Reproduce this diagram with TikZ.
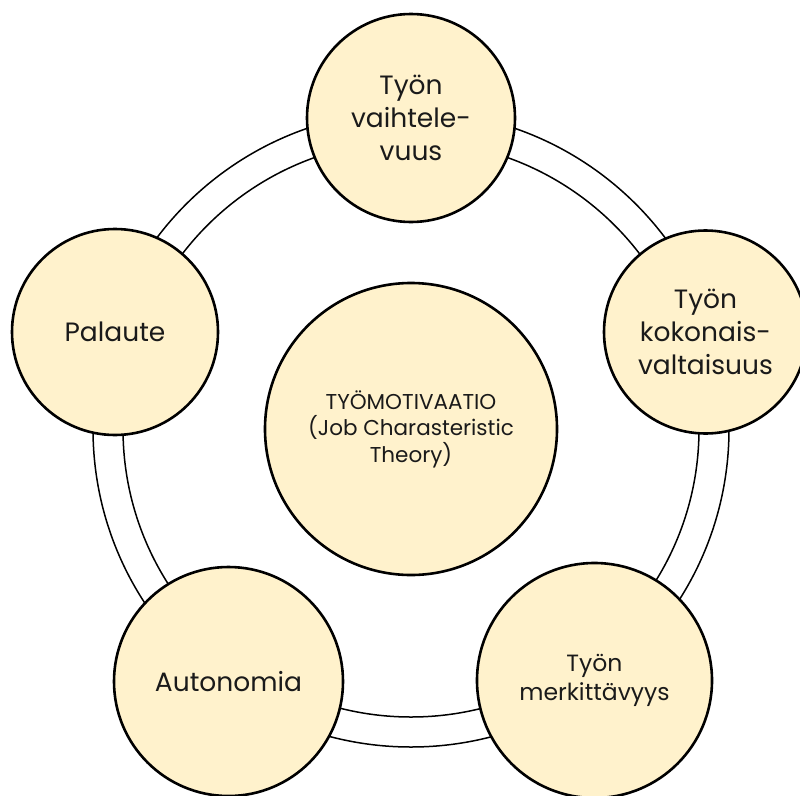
\documentclass[tikz,border=0pt]{standalone}
\usepackage{fontspec}
\setmainfont{Poppins}
\definecolor{cfill}{HTML}{FFF2CC}
\definecolor{ctext}{HTML}{1A1A1A}
\begin{document}
\begin{tikzpicture}[x=1pt,y=-1pt,
  ringline/.style={circle,draw=black,line width=1.5pt,inner sep=0pt},
  bub/.style={circle,draw=black,fill=cfill,line width=2.6pt,inner sep=0pt,align=center,text=ctext},
  big/.style={font=\fontsize{26.5}{33}\selectfont},
  mid/.style={font=\fontsize{23.5}{29}\selectfont},
  small/.style={font=\fontsize{21.5}{26.5}\selectfont}]
\useasboundingbox (0,0) rectangle (800,795);
\node[ringline,minimum size=636pt] (ringout) at (411,429) {};
\node[ringline,minimum size=576pt] (ringin) at (411,429) {};
\node[bub,small,minimum size=292pt] (center) at (411,429) {TYÖMOTIVAATIO\\(Job Charasteristic\\Theory)};
\node[bub,big,minimum size=208pt] (vaiht) at (411,118) {Työn\\vaihtele-\\vuus};
\node[bub,big,minimum size=203pt] (kokon) at (705.5,332) {Työn\\kokonais-\\valtaisuus};
\node[bub,mid,minimum size=235pt] (merk) at (594.5,680.5) {Työn\\merkittävyys};
\node[bub,big,minimum size=229pt] (auton) at (228.5,681.5) {Autonomia};
\node[bub,big,minimum size=206pt] (pal) at (115,332) {Palaute};
\end{tikzpicture}
\end{document}
